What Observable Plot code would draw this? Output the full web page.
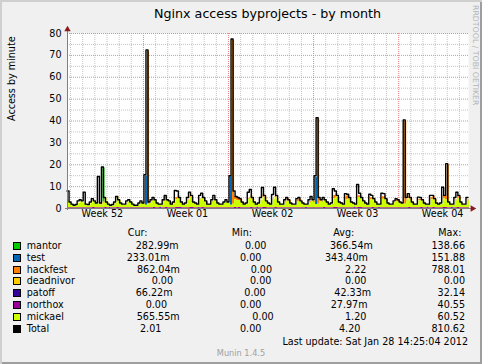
<!DOCTYPE html>
<html><head><meta charset="utf-8">
<script src="https://cdn.jsdelivr.net/npm/d3@7"></script>
<script src="https://cdn.jsdelivr.net/npm/@observablehq/plot@0.6"></script>
<style>
html,body{margin:0;padding:0;background:#ffffff;}
#wrap{position:relative;width:482px;height:364px;background:#f0f0f0;font-family:"DejaVu Sans",sans-serif;overflow:hidden;
  box-shadow: inset 2px 2px 0 #cfcfcf, inset -2px -2px 0 #9e9e9e;}
#wrap div.t{position:absolute;white-space:pre;line-height:12px;font-size:9.6px;color:#000;}
#chart{position:absolute;left:0;top:25px;}
</style>
</head><body>
<div id="wrap"><div id="chart"></div></div>
<script>
// ---------- DATA ----------
const title = "Nginx access byprojects - by month";
const yLabel = "Access by minute";
const yTicks = [0, 10, 20, 30, 40, 50, 60, 70, 80];
const yMinorGrid = [5, 15, 25, 35, 45, 55, 65, 75];
const weekLabels = ["Week 52", "Week 01", "Week 02", "Week 03", "Week 04"];
const weekLabelStarts = ["2011-12-26", "2012-01-02", "2012-01-09", "2012-01-16", "2012-01-23"];
const rangeStart = "2011-12-26T18:00:00Z";
const rangeEnd = "2012-01-28T18:00:00Z";
const sampleHours = 4;

const seriesNames = ["mantor", "test", "hackfest", "deadnivor", "patoff", "northox", "mickael"];
const seriesColors = ["#00cc00", "#0066b3", "#ff8000", "#ffcc00", "#330099", "#990099", "#ccff00"];
const stackOrder = ["patoff", "northox", "mickael", "deadnivor", "hackfest", "test", "mantor"];

// one value every 4 hours (199 samples)
const mickael = [
 3,2,1.2,0.9,1,2,  2.8,2.2,2,1,1,2,  3,2.5,1.5,2,1.2,2,  3.8,2.2,1.2,0.9,1,2,
 4.2,3,1.5,1.2,1.2,2.5,  3,2.2,1.3,1,1,1.8,  2.5,1.8,1.2,1.5,2,3,  3.8,3,1.5,1.2,1.2,2.8,
 4.2,3,1.5,1.2,1.8,3.5,  4.5,3.5,2,1.2,1.5,3.2,  4.5,3.8,2,1.5,1.2,3.5,  4.2,3.2,2,1.2,1.2,2.5,
 3.5,2.5,1.5,1.2,1.2,2,  2.5,2,1.2,1.5,3.5,3.2,  3.2,2.8,1.8,1.2,1.5,3.8,  4.5,3.2,2,1.2,1.5,3,
 4.5,3.5,2,1.5,1.2,3.5,  4.5,3.5,2,1.2,1.2,2.5,  3.2,2.5,1.5,1.2,1.2,2.8,  3.2,2.2,1.5,1.2,1.2,2.5,
 3.5,2.5,1.5,1.5,3,2.5,  3.2,2.5,1.8,1.2,1.5,4,  4.5,3.5,2,1.5,1.2,3.5,  4,3,2,1.5,1.2,4.5,
 4.5,3.2,2,1.2,1.2,3.5,  3.8,2.8,2,1.2,1.2,3.8,  4,2.8,1.5,1.2,1.2,2.2,  2.8,2.5,1.8,1.5,1.5,3,
 4,3.2,2,1.2,1.2,3.2,  3.2,2.5,1.5,1.2,1.2,3.5,  3.8,2.8,1.5,1.2,1.5,4,  3.5,2.5,1.8,1.2,1.2,3,
 4.2,3.5,1.8,1.2,1.2,3,  3
];
const hackfest = [
 0,0,0,0,0,0,  0,0,0,0,0,0,  0,0,0,0,0.8,0.6,  0.5,0,0,0,0,0,
 0.4,0.3,0,0,0,0,  0,0,0,0,0,0,  0,0,0,70,0,0.3,  0.3,0.2,0,0,0,0.3,
 0.8,0.5,1,0.3,0.6,1,  0.6,0.4,0,0,0,0.3,  0.4,0.5,0.2,0,0,0.5,  0.8,1,0.6,0.3,0,0.3,
 0.5,0.3,0,0,0,0,  0,0,0,75,1.5,1.5,  1.2,1,0.5,0,0,0.5,  0.6,0.5,0,0,0,0.4,
 1.2,1,0.6,0.4,0,0.3,  0.5,0.4,0,0,0,0.4,  1,0.8,0.3,0,0,0.8,  0.8,0.5,0,0,0,0.3,
 0.5,0.4,0,39,0.6,0.5,  0.5,0.3,0,0,0,1.5,  1.5,1,0.4,0,0,1.8,  2,1.5,0.5,0,0,0.8,
 0.8,0.6,1,0.5,0,1,  0.6,0.5,0,0,0,1.2,  1.2,0.8,0.4,0,0,0.3,  0.8,0.6,0.4,0,38,0.5,
 1,0.8,0.3,0,0,0.5,  0.4,0.3,0,0,0,1,  1.2,0.8,0,0,0,1.5,  1.5,17,0,0,0,0.5,
 1.2,1,0.3,0,0,0.5,  0.5
];
const northox = [
 .4,.4,.3,.3,.3,.4,  .4,.4,.3,.3,.3,.4,  .5,.4,.3,.3,.3,.4,  .5,.4,.3,.3,.3,.4,
 .5,.4,.3,.3,.3,.4,  .4,.4,.3,.3,.3,.3,  .4,.3,.3,.4,.3,.4,  .5,.4,.3,.3,.3,.4,
 .5,.4,.3,.3,.3,.5,  .6,.5,.3,.3,.3,.4,  .5,.5,.3,.3,.3,.4,  .5,.4,.3,.3,.3,.4,
 .4,.4,.3,.3,.3,.3,  .4,.3,.3,.4,.5,.4,  .5,.4,.3,.3,.3,.4,  .6,.4,.3,.3,.3,.4,
 .5,.5,.3,.3,.3,.4,  .5,.4,.3,.3,.3,.4,  .4,.4,.3,.3,.3,.4,  .4,.4,.3,.3,.3,.3,
 .4,.4,.3,.4,.4,.4,  .5,.4,.3,.3,.3,.5,  .6,.4,.3,.3,.3,.4,  .4,.4,.3,.3,.3,.5,
 .5,.4,.3,.3,.3,.4,  .5,.4,.3,.3,.3,.4,  .4,.4,.3,.3,.3,.3,  .4,.4,.3,.3,.4,.4,
 .5,.4,.3,.3,.3,.4,  .5,.4,.3,.3,.3,.4,  .5,.4,.3,.3,.3,.5,  .5,.4,.3,.3,.3,.4,
 .5,.4,.3,.3,.3,.4,  .4
];
// sparse series: [sample index, value], zero elsewhere
const mantorPoints = [[17, 15.5]];
const testPoints = [[38, 13.5], [80, 13], [122, 12.5]];
const patoffPoints = [[20, .3], [45, .4], [64, .3], [93, .4], [117, .3], [141, .4], [153, .3], [177, .4], [189, .3]];
const deadnivorPoints = [];
const total = [
 8,3,2,1.5,1.8,3.5,  4,3.5,7.5,2,1.8,3,  4.5,3.5,2.5,14.6,2.5,19,  5,3,2,1.5,1.8,3,
 5.5,4,2.5,2,2,3.5,  4,3,2,1.5,1.5,2.5,  3.5,2.5,15.5,72.5,3,4,  5,4,2.5,2,2,4,
 6,4,3.5,2,3,8.2,  8,5,3,2,2.5,5,  7.5,6,3,2.5,2,6,  7,5,3.5,2,2,4,
 6,4,2.5,2,2,3,  4,3,15,77.5,8,5.5,  5,4.5,3,2,2.5,7.4,  8.7,5,3,2,2.5,5,
 9.6,6,3.5,2.5,2,6.4,  9.7,6,3,2,2,4,  5,4,2.5,2,2,4.5,  5,3.5,2.5,2,2,4,
 5.5,4,15,41.5,5,4,  5,4,3,2,2.5,9,  8,6,3,2.5,2,6.8,  6.5,5,3,2.5,2,11,
 7,5,3.5,2.5,2,6.5,  6,4.5,3,2,2,7,  6.8,4.5,2.5,2,2,3.5,  4.5,4,3,2.5,40.5,5,
 6.8,5,3,2,2,5.2,  5,4,2.5,2,2,6,  6,4.5,2.5,2,2.5,9.7,  6,20.5,3,2,2,5,
 7.4,6,3,2,2,5,  5
];

// legend table
const legendNames = ["mantor", "test", "hackfest", "deadnivor", "patoff", "northox", "mickael", "Total"];
const legendColors = ["#00cc00", "#0066b3", "#ff8000", "#ffcc00", "#330099", "#990099", "#ccff00", "#000000"];
const curValues = ["282.99m", "233.01m", "862.04m", "0.00", "66.22m", "0.00", "565.55m", "2.01"];
const minValues = ["0.00", "0.00", "0.00", "0.00", "0.00", "0.00", "0.00", "0.00"];
const avgValues = ["366.54m", "343.40m", "2.22", "0.00", "42.33m", "27.97m", "1.20", "4.20"];
const maxValues = ["138.66", "151.88", "788.01", "0.00", "32.14", "40.55", "60.52", "810.62"];
const columnHeaders = ["Cur:", "Min:", "Avg:", "Max:"];
const lastUpdate = "Last update: Sat Jan 28 14:25:04 2012";
const version = "Munin 1.4.5";
const watermark = "RRDTOOL / TOBI OETIKER";

// ---------- LAYOUT (positions only) ----------
const curLeft = [135.7, 126.7, 137, 151.7, 135.7, 145.7, 136.7, 140];
const minLeft = [245, 240, 250.7, 250, 244.3, 240, 252.3, 240];
const avgLeft = [330, 325, 345, 345, 334.3, 330.7, 345, 339];
const headerLeft = [127.7, 231.7, 333.3, 438.3];

// ---------- BUILD ----------
const start = new Date(rangeStart), end = new Date(rangeEnd);
const N = total.length;
const times = d3.range(N).map(i => new Date(+start + i * sampleHours * 3600e3));
function fromPoints(pts) { const a = new Array(N).fill(0); pts.forEach(([i, v]) => a[i] = v); return a; }
const seriesValues = {
  mantor: fromPoints(mantorPoints), test: fromPoints(testPoints), hackfest, deadnivor: fromPoints(deadnivorPoints),
  patoff: fromPoints(patoffPoints), northox, mickael
};
const stackRows = [];
for (const s of seriesNames) seriesValues[s].forEach((v, i) => stackRows.push({t: times[i], s, v}));
const totalRows = total.map((v, i) => ({t: times[i], v}));
const dayLines = d3.utcDay.range(d3.utcDay.ceil(start), end);
const weekLines = d3.utcMonday.range(start, end);
const weekRows = weekLabels.map((label, k) => ({label, mid: new Date(+new Date(weekLabelStarts[k] + "T00:00:00Z") + 3.62 * 864e5)}));

const chart = Plot.plot({
  width: 482, height: 200,
  marginLeft: 67, marginRight: 14, marginTop: 8, marginBottom: 17,
  style: {background: "transparent", fontFamily: "'DejaVu Sans', sans-serif", fontSize: "9.6px", overflow: "visible", color: "#000"},
  x: {type: "utc", domain: [start, end], axis: null},
  y: {domain: [0, 80], axis: null},
  color: {domain: seriesNames, range: seriesColors},
  marks: [
    Plot.frame({fill: "#ffffff", stroke: null}),
    Plot.ruleX(dayLines, {stroke: "#c4c4c4", strokeDasharray: "1,1"}),
    Plot.ruleY(yMinorGrid, {stroke: "#c4c4c4", strokeDasharray: "1,1"}),
    Plot.ruleX(weekLines, {stroke: "#ee8a8a", strokeDasharray: "1,1"}),
    Plot.ruleY(yTicks.slice(1), {stroke: "#ee8a8a", strokeDasharray: "1,1"}),
    Plot.areaY(stackRows, {x: "t", y: "v", z: "s", fill: "s", order: stackOrder, curve: "step-after", dx: 1}),
    Plot.line(totalRows, {x: "t", y: "v", stroke: "#000", strokeWidth: 1.4, curve: "step-after", dx: -0.5}),
    Plot.ruleY([0], {stroke: "#808080", insetLeft: -2, insetRight: -3}),
    Plot.ruleX([start], {stroke: "#808080", insetTop: -4, insetBottom: -2}),
    Plot.dot([{t: start, v: 80}], {x: "t", y: "v", symbol: "triangle", r: 2.4, fill: "#8b1a1a", stroke: null, dy: -4}),
    Plot.dot([{t: end, v: 0}], {x: "t", y: "v", symbol: "triangle", r: 2.4, rotate: 90, fill: "#8b1a1a", stroke: null, dx: 4}),
    Plot.text(yTicks, {y: d => d, frameAnchor: "left", text: d => String(d), textAnchor: "end", dx: -6, fill: "#000"}),
    Plot.text(weekRows, {x: "mid", frameAnchor: "bottom", text: "label", dy: 8, fill: "#000"}),
    Plot.text([yLabel], {frameAnchor: "left", rotate: -90, dx: -56, text: d => d, fill: "#000"})
  ]
});
document.getElementById("chart").appendChild(chart);

// ---------- HTML text around the chart ----------
const wrap = document.getElementById("wrap");
function addText(txt, css) {
  const d = document.createElement("div"); d.className = "t"; d.textContent = txt;
  Object.assign(d.style, css); wrap.appendChild(d); return d;
}
addText(title, {left: "67px", width: "401px", textAlign: "center", top: "6px", fontSize: "12.7px", lineHeight: "15px"});
addText(watermark, {left: "470.5px", top: "5px", fontSize: "7.8px", lineHeight: "9px", color: "#b4b4b4", writingMode: "vertical-rl"});
columnHeaders.forEach((h, k) => addText(h, {left: headerLeft[k] + "px", top: (233.3 - 6) + "px"}));
legendNames.forEach((name, r) => {
  const yc = 245.6 + r * 11.95;
  const sw = document.createElement("div");
  Object.assign(sw.style, {position: "absolute", left: "13px", top: (yc - 4) + "px", width: "8px", height: "8px", boxSizing: "border-box",
    border: "1px solid #000", background: legendColors[r]});
  wrap.appendChild(sw);
  addText(name, {left: "26.7px", top: (yc - 6) + "px"});
  addText(curValues[r], {left: curLeft[r] + "px", top: (yc - 6) + "px"});
  addText(minValues[r], {left: minLeft[r] + "px", top: (yc - 6) + "px"});
  addText(avgValues[r], {left: avgLeft[r] + "px", top: (yc - 6) + "px"});
  addText(maxValues[r], {right: "17px", top: (yc - 6) + "px", textAlign: "right"});
});
addText(lastUpdate, {right: "14px", top: (341.7 - 6) + "px", textAlign: "right"});
addText(version, {left: "0px", width: "482px", textAlign: "center", top: (352.5 - 5) + "px", fontSize: "8.2px", lineHeight: "10px", color: "#a0a0a0"});
</script>
</body></html>
